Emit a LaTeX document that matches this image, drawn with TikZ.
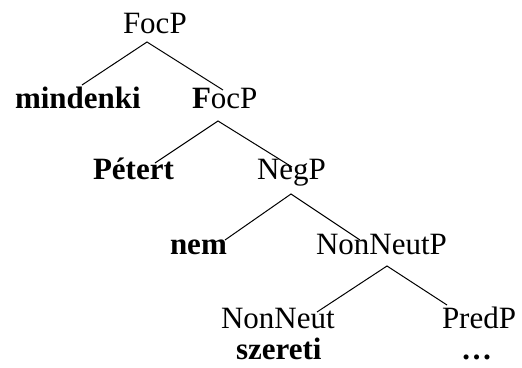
\documentclass[tikz,border=0pt]{standalone}
\usepackage{fontspec}
\setmainfont{Liberation Serif}
\begin{document}
\begin{tikzpicture}[x=1pt,y=-1pt,
  lbl/.style={anchor=base west,inner sep=0pt,outer sep=0pt,font=\fontsize{31}{31}\selectfont},
  blbl/.style={lbl,font=\fontsize{31}{31}\selectfont\bfseries},
  branch/.style={line width=1pt,black}]
\useasboundingbox (0,0) rectangle (522,367);
% labels
\node[lbl]  (root)  at (123,33)  {FocP};
\node[blbl] (mind)  at (15,108)  {mindenki};
\node[lbl]  (foc2)  at (192,108) {\textbf{F}ocP};
\node[blbl] (pet)   at (93,179)  {Pétert};
\node[lbl]  (neg)   at (257,179) {NegP};
\node[blbl] (nem)   at (170,254) {nem};
\node[lbl]  (nnp)   at (316,254) {NonNeutP};
\node[lbl]  (nn)    at (221,328) {NonNeut};
\node[lbl]  (pred)  at (442,328) {PredP};
\node[blbl] (sz)    at (236,359) {szereti};
\node[blbl] (dots)  at (461,359) {…};
% branch points
\coordinate (a1) at (147,42);  \coordinate (l1) at (82,85);   \coordinate (r1) at (223,90);
\coordinate (a2) at (218,121); \coordinate (l2) at (155,163); \coordinate (r2) at (292,167);
\coordinate (a3) at (291,194); \coordinate (l3) at (225,240); \coordinate (r3) at (360,240);
\coordinate (a4) at (387,266); \coordinate (l4) at (317,312); \coordinate (r4) at (447,305);
\draw[branch] (l1) -- (a1) -- (r1);
\draw[branch] (l2) -- (a2) -- (r2);
\draw[branch] (l3) -- (a3) -- (r3);
\draw[branch] (l4) -- (a4) -- (r4);
\end{tikzpicture}
\end{document}
